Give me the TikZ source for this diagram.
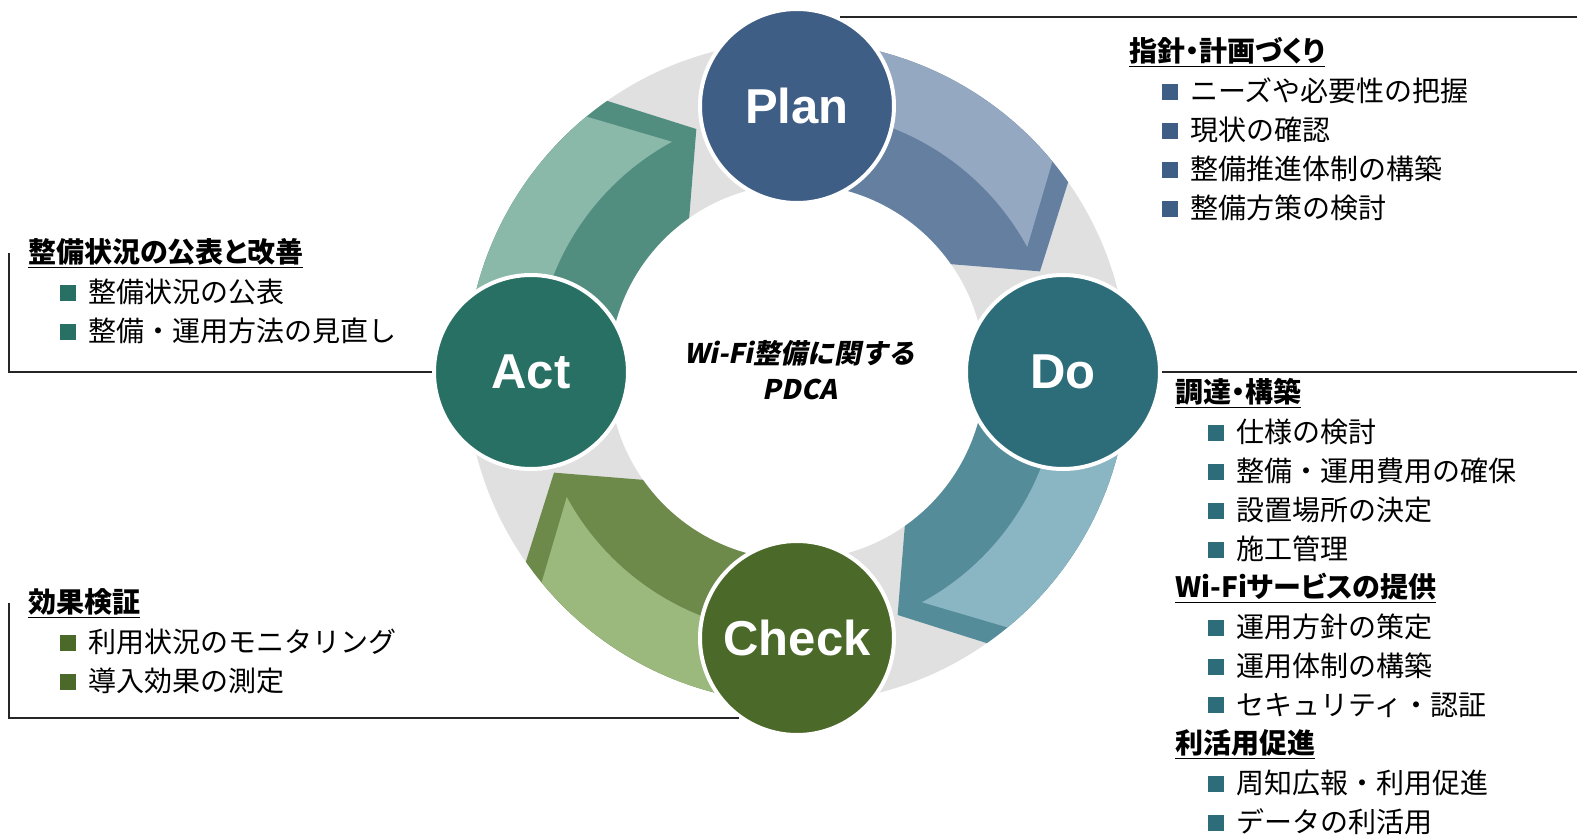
\documentclass[tikz,border=0pt]{standalone}
\usepackage{fontspec}
\usepackage{tikz}
\setmainfont{Noto Sans CJK JP}
\newfontfamily\stagefont{Liberation Sans}
\newfontfamily\headfont{Noto Sans CJK JP}[RawFeature=+palt]
\newfontfamily\centerfont{Noto Sans CJK JP}[FakeSlant=0.2]
\definecolor{ringc}{HTML}{E0E0E0}
\definecolor{planc}{HTML}{3F5E86}
\definecolor{planl}{HTML}{95A8C1}
\definecolor{pland}{HTML}{647FA0}
\definecolor{doc}{HTML}{2D6D7A}
\definecolor{dol}{HTML}{8AB5C2}
\definecolor{dod}{HTML}{558C99}
\definecolor{checkc}{HTML}{4B6929}
\definecolor{checkl}{HTML}{9BB87D}
\definecolor{checkd}{HTML}{6D8A4B}
\definecolor{actc}{HTML}{287064}
\definecolor{actl}{HTML}{8AB8A9}
\definecolor{actd}{HTML}{528E80}
\newcommand\sqbullet[1]{\textcolor{#1}{\rule[2pt]{16pt}{16pt}}\hspace{12pt}}

\begin{document}
\begin{tikzpicture}[x=1pt,y=1pt,
    stage/.style={circle,draw=white,line width=4pt,minimum size=194pt,inner sep=0pt,text=white,font=\stagefont\bfseries\fontsize{49}{49}\selectfont},
    head/.style={anchor=west,inner sep=0pt,font=\headfont\bfseries\fontsize{28}{34}\selectfont},
    item/.style={anchor=west,inner sep=0pt,font=\fontsize{28}{34}\selectfont},
    leader/.style={draw=black!85,line width=1.5pt}]
\useasboundingbox (-797,-464) rectangle (780,372);
\fill[ringc,even odd rule] (0,0) circle[radius=331] (0,0) circle[radius=188];
\foreach \a/\lc/\dc in {90/planl/pland,0/dol/dod,-90/checkl/checkd,180/actl/actd}{
    \fill[\dc] (\a-10:331) arc[start angle=\a-10,end angle=\a-55,radius=331] -- (\a-67.5:263) -- (\a-55:188) arc[start angle=\a-55,end angle=\a-10,radius=188] -- cycle;
    \fill[\lc] (\a-10:331) arc[start angle=\a-10,end angle=\a-50.5,radius=331] -- (\a-61.5:262) arc[start angle=\a-61.5,end angle=\a-10,radius=262] -- cycle;
}
\node[stage,fill=planc] (plan) at (90:266) {Plan};
\node[stage,fill=doc] (do) at (0:266) {Do};
\node[stage,fill=checkc] (check) at (-90:266) {Check};
\node[stage,fill=actc] (act) at (180:266) {Act};
\node[font=\centerfont\bfseries\fontsize{27}{36}\selectfont,align=center] (title) at (3,2) {Wi-Fi整備に関する\\PDCA};

\coordinate (rgt) at (780,0);
\coordinate (lft) at (-788,0);

\node[head] (planhead) at (332,320) {\underline{指針・計画づくり}};
\foreach \t [count=\i] in {ニーズや必要性の把握,現状の確認,整備推進体制の構築,整備方策の検討}
    \node[item] (plan-\i) at (365,320-39*\i) {\sqbullet{planc}\t};

\node[head] (dohead) at (378,-21) {\underline{調達・構築}};
\foreach \t [count=\i] in {仕様の検討,整備・運用費用の確保,設置場所の決定,施工管理}
    \node[item] (do-\i) at (411,-21-39*\i) {\sqbullet{doc}\t};
\node[head] (wifihead) at (378,-216) {\underline{Wi-Fiサービスの提供}};
\foreach \t [count=\i] in {運用方針の策定,運用体制の構築,セキュリティ・認証}
    \node[item] (wifi-\i) at (411,-216-39*\i) {\sqbullet{doc}\t};
\node[head] (usehead) at (378,-372) {\underline{利活用促進}};
\foreach \t [count=\i] in {周知広報・利用促進,データの利活用}
    \node[item] (use-\i) at (411,-372-39*\i) {\sqbullet{doc}\t};

\node[head] (acthead) at (-769,119) {\underline{整備状況の公表と改善}};
\foreach \t [count=\i] in {整備状況の公表,整備・運用方法の見直し}
    \node[item] (act-\i) at (-737,119-39*\i) {\sqbullet{actc}\t};

\node[head] (checkhead) at (-769,-231) {\underline{効果検証}};
\foreach \t [count=\i] in {利用状況のモニタリング,導入効果の測定}
    \node[item] (check-\i) at (-737,-231-39*\i) {\sqbullet{checkc}\t};

\draw[leader] (plan.64) -- (plan.64 -| rgt);
\draw[leader] (do.east) -- (do.east -| rgt);
\draw[leader] (act.west) -- (act.west -| lft) -- (lft |- acthead.west);
\draw[leader] (check.234) -- (check.234 -| lft) -- (lft |- checkhead.west);
\end{tikzpicture}
\end{document}
